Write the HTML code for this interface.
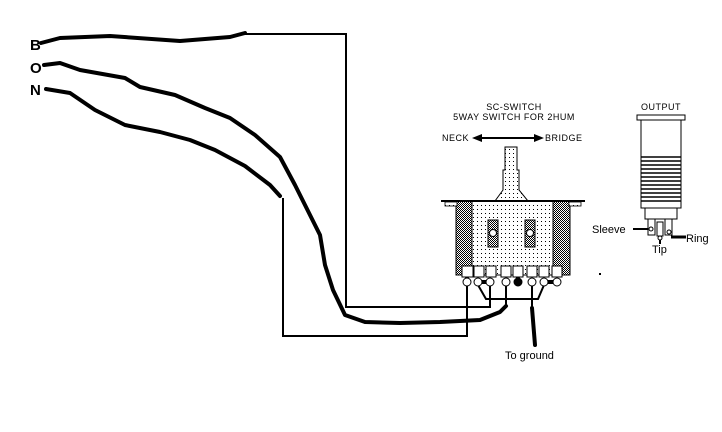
<!DOCTYPE html>
<html><head><meta charset="utf-8"><style>
html,body{margin:0;padding:0;background:#fff;width:722px;height:432px;overflow:hidden}
svg{display:block}
text{font-family:"Liberation Sans",sans-serif;fill:#000}
</style></head><body>
<svg width="722" height="432" viewBox="0 0 722 432" xmlns="http://www.w3.org/2000/svg">
<defs>
<pattern id="dots" width="4" height="4" patternUnits="userSpaceOnUse"><rect width="4" height="4" fill="#fff"/><rect x="1" y="1" width="1" height="1" fill="#000"/></pattern>
<pattern id="hatch" width="2" height="2" patternUnits="userSpaceOnUse"><rect width="2" height="2" fill="#fff"/><rect width="1" height="1" fill="#000"/><rect x="1" y="1" width="1" height="1" fill="#000"/></pattern>
</defs>
<text x="30" y="50" font-size="15" font-weight="bold">B</text>
<text x="30" y="73" font-size="15" font-weight="bold">O</text>
<text x="30" y="95" font-size="15" font-weight="bold">N</text>
<g fill="none" stroke="#000" stroke-width="4" stroke-linejoin="round" stroke-linecap="round">
<polyline points="41,43 60,38 110,36 180,41 230,37 245,33"/>
<polyline points="44,65 60,63 80,70 125,78 140,87 175,95 205,108 230,118 255,135 280,157 295,185 310,215 320,235 325,265 333,290 345,315 365,322 400,323 440,322 480,320 500,312 506,306"/>
<polyline points="46,89 70,93 95,110 125,125 160,132 190,140 215,150 245,166 270,185 280,196"/>
<path d="M467,277 C467,262 480,260 500,258 C515,257 518,265 518,282"/>
<line x1="478" y1="282" x2="490" y2="282"/>
<line x1="544" y1="282" x2="557" y2="282"/>
<line x1="532" y1="308" x2="535" y2="345"/>
</g>
<g fill="none" stroke="#000" stroke-width="2">
<polyline points="245,34 346,34 346,307 490,307 490,285"/>
<polyline points="283,198 283,336 467,336 467,285"/>
<line x1="506" y1="285" x2="506" y2="308"/>
<line x1="532" y1="285" x2="532" y2="308"/>
<polyline points="478,285 486,299 538,299 544,285"/>
</g>
<!-- switch -->
<text x="514" y="110" font-size="9" text-anchor="middle" letter-spacing="0.5">SC-SWITCH</text>
<text x="514" y="120" font-size="9" text-anchor="middle" letter-spacing="0.5">5WAY SWITCH FOR 2HUM</text>
<text x="442" y="141" font-size="9" letter-spacing="0.5">NECK</text>
<text x="545" y="141" font-size="9" letter-spacing="0.5">BRIDGE</text>
<line x1="478" y1="138" x2="538" y2="138" stroke="#000" stroke-width="2"/>
<polygon points="472,138 482,134 482,142" fill="#000"/>
<polygon points="544,138 534,134 534,142" fill="#000"/>
<path d="M505,147 H517 V170 H519 V190 L528,201 H495 L503,190 V170 H505 Z" fill="url(#dots)" stroke="#000"/>
<rect x="456" y="201" width="114" height="74" fill="url(#dots)" stroke="#000"/>
<rect x="456" y="201" width="16" height="74" fill="url(#hatch)" stroke="#000"/>
<rect x="553" y="201" width="17" height="74" fill="url(#hatch)" stroke="#000"/>
<line x1="441" y1="201" x2="585" y2="201" stroke="#000" stroke-width="2"/>
<rect x="445" y="202" width="12" height="4" fill="url(#dots)" stroke="#000" stroke-width="0.8"/>
<rect x="569" y="202" width="12" height="4" fill="url(#dots)" stroke="#000" stroke-width="0.8"/>
<rect x="488" y="220" width="10" height="27" fill="url(#hatch)" stroke="#000"/>
<circle cx="493" cy="233" r="3.5" fill="#fff" stroke="#000"/>
<rect x="525" y="220" width="10" height="27" fill="url(#hatch)" stroke="#000"/>
<circle cx="530" cy="233" r="3.5" fill="#fff" stroke="#000"/>
<g stroke="#000" fill="#fff">
<rect x="462" y="266" width="11" height="11"/><rect x="474" y="266" width="10" height="11"/><rect x="486" y="266" width="10" height="11"/><rect x="501" y="266" width="10" height="11"/><rect x="513" y="266" width="10" height="11"/><rect x="527" y="266" width="10" height="11"/><rect x="539" y="266" width="10" height="11"/><rect x="552" y="266" width="10" height="11"/>
<circle cx="467" cy="282" r="4"/><circle cx="478" cy="282" r="4"/><circle cx="490" cy="282" r="4"/><circle cx="506" cy="282" r="4"/><circle cx="518" cy="282" r="4" fill="#000"/><circle cx="532" cy="282" r="4"/><circle cx="544" cy="282" r="4"/><circle cx="557" cy="282" r="4"/>
</g>
<text x="505" y="359" font-size="11">To ground</text>
<rect x="599" y="273" width="2" height="2" fill="#000"/>
<!-- jack -->
<text x="661" y="110" font-size="9" text-anchor="middle" letter-spacing="0.5">OUTPUT</text>
<rect x="637" y="115" width="48" height="5" fill="#fff" stroke="#000"/>
<rect x="641" y="120" width="40" height="88" fill="#fff" stroke="#000"/>
<g stroke="#000" stroke-width="1.5">
<line x1="641" y1="157" x2="681" y2="157"/><line x1="641" y1="161" x2="681" y2="161"/><line x1="641" y1="165" x2="681" y2="165"/><line x1="641" y1="169" x2="681" y2="169"/><line x1="641" y1="173" x2="681" y2="173"/><line x1="641" y1="177" x2="681" y2="177"/><line x1="641" y1="181" x2="681" y2="181"/><line x1="641" y1="185" x2="681" y2="185"/><line x1="641" y1="189" x2="681" y2="189"/><line x1="641" y1="193" x2="681" y2="193"/><line x1="641" y1="197" x2="681" y2="197"/><line x1="641" y1="201" x2="681" y2="201"/>
</g>
<rect x="645" y="208" width="32" height="11" fill="#fff" stroke="#000"/>
<g fill="#fff" stroke="#000">
<rect x="648" y="219" width="7" height="16"/><rect x="657" y="222" width="6" height="14"/><rect x="665" y="219" width="7" height="16"/>
</g>
<circle cx="651" cy="229" r="2" fill="#fff" stroke="#000"/>
<circle cx="660" cy="238" r="2" fill="#fff" stroke="#000"/>
<circle cx="669" cy="232" r="2" fill="#fff" stroke="#000"/>
<line x1="633" y1="229" x2="648" y2="229" stroke="#000" stroke-width="2"/>
<line x1="660" y1="240" x2="660" y2="244" stroke="#000" stroke-width="2"/>
<line x1="671" y1="237" x2="686" y2="237" stroke="#000" stroke-width="3"/>
<text x="592" y="233" font-size="11">Sleeve</text>
<text x="652" y="253" font-size="11">Tip</text>
<text x="686" y="242" font-size="11">Ring</text>
</svg>
</body></html>
